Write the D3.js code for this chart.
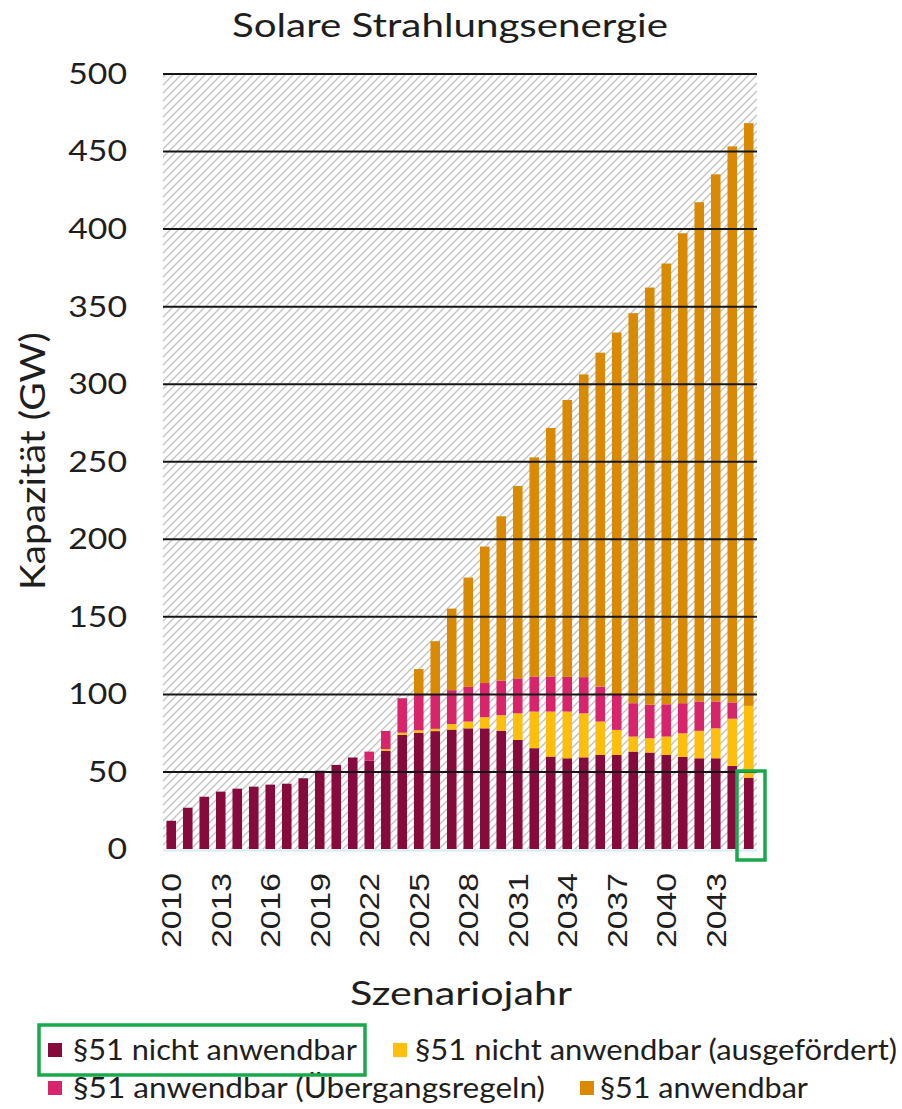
<!DOCTYPE html>
<html>
<head>
<meta charset="utf-8">
<script src="https://cdn.jsdelivr.net/npm/d3@7"></script>
<style>
  body { margin: 0; background: #fff; }
  svg { display: block; }
</style>
</head>
<body>
<svg id="chart" width="902" height="1109"></svg>
<script>
// Scenario years (one stacked bar per year)
const years = [2010, 2011, 2012, 2013, 2014, 2015, 2016, 2017, 2018, 2019,
               2020, 2021, 2022, 2023, 2024, 2025, 2026, 2027, 2028, 2029,
               2030, 2031, 2032, 2033, 2034, 2035, 2036, 2037, 2038, 2039,
               2040, 2041, 2042, 2043, 2044, 2045];

// Installed capacity in GW per category
const nichtAnwendbar = [18.2, 26.6, 33.7, 37.0, 38.9, 40.2, 41.5, 42.1, 45.6, 50.5,
                        54.2, 59.0, 57.0, 63.4, 73.5, 75.0, 76.0, 77.0, 77.8, 77.8,
                        76.3, 70.3, 65.0, 59.6, 58.5, 59.1, 60.6, 60.6, 62.8, 62.2,
                        60.6, 59.4, 58.5, 58.5, 53.5, 46.0];
const ausgefoerdert = [0, 0, 0, 0, 0, 0, 0, 0, 0, 0,
                       0, 0, 0, 1.0, 1.5, 1.5, 1.5, 3.6, 4.4, 7.2,
                       10.0, 17.2, 23.6, 29.0, 30.1, 28.4, 21.6, 16.2, 9.7, 9.2,
                       11.9, 15.2, 17.7, 19.3, 30.5, 46.3];
const uebergangsregeln = [0, 0, 0, 0, 0, 0, 0, 0, 0, 0,
                          0, 0, 5.8, 11.7, 22.2, 23.0, 22.5, 21.8, 22.3, 22.0,
                          22.3, 22.5, 22.6, 22.6, 22.4, 23.3, 22.5, 22.6, 21.5, 21.6,
                          20.8, 19.4, 18.9, 17.3, 10.5, 0];
const anwendbar = [0, 0, 0, 0, 0, 0, 0, 0, 0, 0,
                   0, 0, 0, 0, 0, 16.5, 34.0, 52.6, 70.5, 88.0,
                   105.9, 124.0, 141.3, 160.3, 178.5, 195.2, 215.3, 233.6, 251.5, 269.0,
                   284.2, 303.0, 321.9, 339.9, 358.5, 375.7];

// Axis ticks
const yTickValues = [0, 50, 100, 150, 200, 250, 300, 350, 400, 450, 500];
const xTickYears = [2010, 2013, 2016, 2019, 2022, 2025, 2028, 2031, 2034, 2037, 2040, 2043];

// Series names (legend) and colours, in stacking order bottom → top
const seriesKeys = ["nicht", "ausgefoerdert", "uebergang", "anwendbar"];
const seriesLabels = ["§51 nicht anwendbar", "§51 nicht anwendbar (ausgefördert)",
                      "§51 anwendbar (Übergangsregeln)", "§51 anwendbar"];
const seriesColors = ["#870a3c", "#fdbf0c", "#d8246b", "#da8a02"];

const rows = years.map((yr, i) => ({
  year: yr,
  nicht: nichtAnwendbar[i],
  ausgefoerdert: ausgefoerdert[i],
  uebergang: uebergangsregeln[i],
  anwendbar: anwendbar[i]
}));

const svg = d3.select("#chart");
const plot = { left: 163, right: 757, top: 73.5, bottom: 849 };
const textFont = "Lato, 'Open Sans', sans-serif";
const tickFont = "'Liberation Sans', Arial, sans-serif";
const ink = "#1e1e1e";

const x = d3.scaleBand()
  .domain(years)
  .range([plot.left, plot.right])
  .paddingInner(0.42)
  .paddingOuter(0.21);

const y = d3.scaleLinear()
  .domain([0, 500])
  .range([plot.bottom, plot.top]);

// Diagonal hatching for the plot background
const defs = svg.append("defs");
const hatch = defs.append("pattern")
  .attr("id", "hatch")
  .attr("patternUnits", "userSpaceOnUse")
  .attr("width", 8)
  .attr("height", 8);
hatch.append("path")
  .attr("d", "M-2,2 L2,-2 M0,8 L8,0 M6,10 L10,6")
  .attr("stroke", "#c3c3c3")
  .attr("stroke-width", 1.4)
  .attr("fill", "none");

svg.append("rect")
  .attr("x", plot.left)
  .attr("y", plot.top)
  .attr("width", plot.right - plot.left)
  .attr("height", plot.bottom - plot.top)
  .attr("fill", "url(#hatch)");

// Stacked bars
const stack = d3.stack().keys(seriesKeys);
const layers = stack(rows);

svg.append("g")
  .selectAll("g")
  .data(layers)
  .join("g")
  .attr("fill", (d, i) => seriesColors[i])
  .selectAll("rect")
  .data(d => d.filter(s => s[1] - s[0] > 0))
  .join("rect")
  .attr("x", d => x(d.data.year))
  .attr("width", x.bandwidth())
  .attr("y", d => y(d[1]))
  .attr("height", d => y(d[0]) - y(d[1]));

// Faint baseline under the bars
svg.append("line")
  .attr("x1", plot.left)
  .attr("x2", plot.right)
  .attr("y1", plot.bottom + 1.5)
  .attr("y2", plot.bottom + 1.5)
  .attr("stroke", "#d6ecf3")
  .attr("stroke-width", 2);

// Horizontal gridlines drawn over the bars
const yAxis = d3.axisLeft(y)
  .tickValues(yTickValues.filter(v => v > 0))
  .tickSize(-(plot.right - plot.left))
  .tickFormat("");
const gridG = svg.append("g")
  .attr("transform", `translate(${plot.left},0)`)
  .call(yAxis);
gridG.select(".domain").remove();
gridG.selectAll(".tick line")
  .attr("stroke", "#161616")
  .attr("stroke-width", 2);

// Y tick labels
svg.append("g")
  .selectAll("text")
  .data(yTickValues)
  .join("text")
  .attr("x", 127)
  .attr("y", d => y(d))
  .attr("dy", "0.36em")
  .attr("text-anchor", "end")
  .attr("font-family", textFont)
  .attr("font-size", 29)
  .attr("fill", ink)
  .attr("textLength", d => String(d).length * 19.6)
  .attr("lengthAdjust", "spacingAndGlyphs")
  .text(d => d);

// X tick labels (rotated)
const xAxis = d3.axisBottom(x)
  .tickValues(xTickYears)
  .tickSize(0)
  .tickPadding(0);
const xG = svg.append("g")
  .attr("transform", `translate(0,${plot.bottom})`)
  .call(xAxis);
xG.select(".domain").remove();
xG.selectAll(".tick text")
  .attr("font-family", tickFont)
  .attr("font-size", 28)
  .attr("fill", ink)
  .attr("text-anchor", "end")
  .attr("transform", "translate(0,24) rotate(-90)")
  .attr("x", 0)
  .attr("y", 0)
  .attr("dy", "0.36em")
  .attr("textLength", 75)
  .attr("lengthAdjust", "spacingAndGlyphs");

// Title
svg.append("text")
  .attr("x", 450)
  .attr("y", 37)
  .attr("text-anchor", "middle")
  .attr("font-family", textFont)
  .attr("font-size", 32)
  .attr("fill", ink)
  .attr("textLength", 436)
  .attr("lengthAdjust", "spacingAndGlyphs")
  .text("Solare Strahlungsenergie");

// Axis titles
svg.append("text")
  .attr("transform", "translate(33,461) rotate(-90)")
  .attr("text-anchor", "middle")
  .attr("dy", "0.36em")
  .attr("font-family", textFont)
  .attr("font-size", 34)
  .attr("fill", ink)
  .attr("textLength", 258)
  .attr("lengthAdjust", "spacingAndGlyphs")
  .text("Kapazität (GW)");

svg.append("text")
  .attr("x", 461)
  .attr("y", 1005)
  .attr("text-anchor", "middle")
  .attr("font-family", textFont)
  .attr("font-size", 32)
  .attr("fill", ink)
  .attr("textLength", 222)
  .attr("lengthAdjust", "spacingAndGlyphs")
  .text("Szenariojahr");

// Legend
const legendItems = [
  { i: 0, sx: 48, tx: 73, cy: 1050, w: 284 },
  { i: 1, sx: 393, tx: 415, cy: 1050, w: 482 },
  { i: 2, sx: 48, tx: 73, cy: 1088, w: 472 },
  { i: 3, sx: 580, tx: 600, cy: 1088, w: 208 }
];
const legend = svg.append("g");
legend.selectAll("rect")
  .data(legendItems)
  .join("rect")
  .attr("x", d => d.sx)
  .attr("y", d => d.cy - 7)
  .attr("width", 14)
  .attr("height", 14)
  .attr("fill", d => seriesColors[d.i]);
legend.selectAll("text")
  .data(legendItems)
  .join("text")
  .attr("x", d => d.tx)
  .attr("y", d => d.cy)
  .attr("dy", "0.36em")
  .attr("font-family", textFont)
  .attr("font-size", 29)
  .attr("fill", ink)
  .attr("textLength", d => d.w)
  .attr("lengthAdjust", "spacingAndGlyphs")
  .text(d => seriesLabels[d.i]);

// Highlight frames
const frames = [
  { x: 737, y: 771, w: 28, h: 89 },
  { x: 39, y: 1025, w: 326, h: 50 }
];
svg.append("g")
  .selectAll("rect")
  .data(frames)
  .join("rect")
  .attr("x", d => d.x)
  .attr("y", d => d.y)
  .attr("width", d => d.w)
  .attr("height", d => d.h)
  .attr("fill", "none")
  .attr("stroke", "#17a94b")
  .attr("stroke-width", 3.5);
</script>
</body>
</html>
